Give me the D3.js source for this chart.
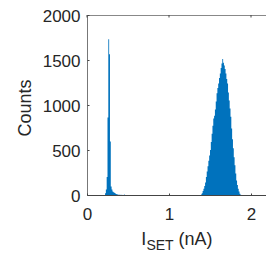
<!DOCTYPE html>
<html><head><meta charset="utf-8">
<script src="https://cdn.jsdelivr.net/npm/d3@7"></script>
<style>body{margin:0;background:#fff}svg{display:block}</style>
</head><body>
<script>
// Histogram data: bin left edges (nA), bin width 0.01 nA, counts
const binWidth = 0.01;
const peak1Start = 0.22;
const peak1Counts = [20, 60, 200, 860, 1730, 1565, 595, 95, 60, 40, 30, 25, 20, 12, 8, 5, 3, 2, 2, 1, 2, 1, 1, 5, 1];
const peak2Start = 1.39;
const peak2Counts = [5, 20, 45, 70, 100, 140, 200, 260, 320, 380, 440, 500, 590, 680, 770, 850, 880, 950, 1040, 1130, 1190, 1240, 1300, 1350, 1410, 1460, 1510, 1470, 1440, 1400, 1350, 1290, 1240, 1140, 1050, 960, 870, 740, 620, 520, 420, 330, 240, 160, 110, 70, 40, 15, 3];
const xTicks = [0, 1, 2];
const yTicks = [0, 500, 1000, 1500, 2000];

function toSteps(start, counts) {
  const pts = counts.map((c, i) => ({x: +(start + i * binWidth).toFixed(3), c}));
  pts.push({x: +(start + counts.length * binWidth).toFixed(3), c: counts[counts.length - 1]});
  return pts;
}
const peaks = [toSteps(peak1Start, peak1Counts), toSteps(peak2Start, peak2Counts)];

const W = 266, H = 254;
const svg = d3.select("body").append("svg").attr("width", W).attr("height", H);

const x = d3.scaleLinear().domain([0, 2.5]).range([87, 87 + 82 * 2.5]);
const y = d3.scaleLinear().domain([0, 2000]).range([195, 15]);

const font = "'Liberation Sans', Arial, Helvetica, sans-serif";

// histogram bars as step areas
const area = d3.area().curve(d3.curveStepAfter)
  .x(d => x(d.x)).y0(y(0)).y1(d => y(d.c));
svg.append("g").selectAll("path").data(peaks).join("path")
  .attr("d", area).attr("fill", "#0072BD");

const axisColor = "#444";
const x0 = x(0), x1 = x(2.5), yT = y(2000), yB = y(0);
svg.append("line").attr("x1", x0).attr("x2", x1).attr("y1", yT + 0.5).attr("y2", yT + 0.5).attr("stroke", "#888").attr("stroke-width", 1);
svg.append("line").attr("x1", x0).attr("x2", x1).attr("y1", yB + 0.5).attr("y2", yB + 0.5).attr("stroke", axisColor).attr("stroke-width", 1);
svg.append("line").attr("x1", x0 + 0.5).attr("x2", x0 + 0.5).attr("y1", yT).attr("y2", yB + 1).attr("stroke", "#777").attr("stroke-width", 1);

// x axis ticks & labels
const xa = d3.axisBottom(x).tickValues(xTicks).tickSizeInner(-2).tickSizeOuter(0).tickFormat(d3.format("d"));
const gx = svg.append("g").attr("transform", `translate(0,${yB + 0.5})`).call(xa);
gx.select(".domain").remove();
gx.selectAll("line").attr("stroke", axisColor);
gx.selectAll("text").attr("font-family", font).attr("font-size", 17).attr("fill", "#262626").attr("dy", null).attr("y", 24);
// top ticks
svg.append("g").selectAll("line").data(xTicks).join("line")
  .attr("x1", d => x(d)).attr("x2", d => x(d)).attr("y1", yT).attr("y2", yT + 2.5).attr("stroke", axisColor);

// y axis
const ya = d3.axisLeft(y).tickValues(yTicks).tickSizeInner(-2).tickSizeOuter(0).tickFormat(d3.format("d"));
const gy = svg.append("g").attr("transform", `translate(${x0 + 0.5},0)`).call(ya);
gy.select(".domain").remove();
gy.selectAll("line").attr("stroke", axisColor);
gy.selectAll("text").attr("font-family", font).attr("font-size", 17).attr("fill", "#262626").attr("x", -7).attr("dy", "0.36em");

// labels
svg.append("text").attr("transform", "translate(31,108) rotate(-90)")
  .attr("text-anchor", "middle").attr("font-family", font).attr("font-size", 18).attr("fill", "#262626").text("Counts");

const xl = svg.append("text").attr("x", 177).attr("y", 245).attr("text-anchor", "middle")
  .attr("font-family", font).attr("font-size", 18).attr("fill", "#262626");
xl.append("tspan").text("I");
xl.append("tspan").attr("dy", 5).attr("font-size", 14).text("SET");
xl.append("tspan").attr("dy", -5).text(" (nA)");
</script>
</body></html>
